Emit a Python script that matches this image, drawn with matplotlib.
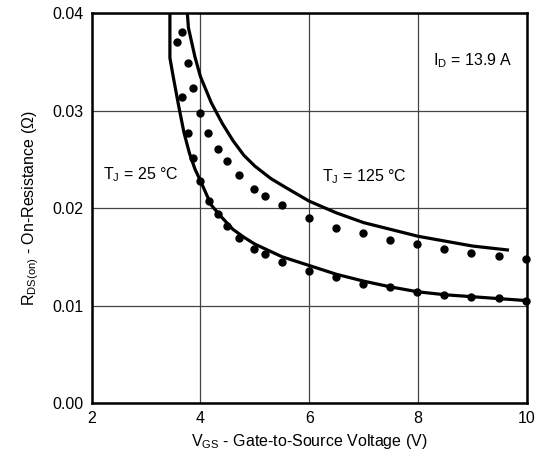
# On-resistance vs gate-to-source voltage, two junction temperatures

import matplotlib as mpl
mpl.use('Agg')
import matplotlib.pyplot as plt

plt.rcParams['font.family'] = ['Liberation Sans', 'DejaVu Sans']
plt.rcParams['mathtext.default'] = 'regular'

# measured points (dots)
vgs_hot = [3.67, 3.78, 3.87, 3.99, 4.14, 4.32, 4.48, 4.71, 4.98, 5.18, 5.49,
           6.0, 6.49, 6.99, 7.49, 7.98, 8.48, 8.98, 9.48, 9.98]
rds_hot = [0.0381, 0.0349, 0.0323, 0.0297, 0.0277, 0.0261, 0.0248, 0.0234, 0.0220,
           0.0212, 0.0203, 0.0190, 0.0180, 0.0174, 0.0167, 0.0163, 0.0158, 0.0154,
           0.0151, 0.0148]
vgs_cold = [3.57, 3.67, 3.78, 3.87, 3.99, 4.16, 4.32, 4.48, 4.71, 4.98, 5.18, 5.49,
            6.0, 6.49, 6.99, 7.49, 7.98, 8.48, 8.98, 9.48, 9.98]
rds_cold = [0.0370, 0.0314, 0.0277, 0.0251, 0.0228, 0.0207, 0.0194, 0.0182, 0.0169,
            0.0158, 0.0153, 0.0145, 0.0135, 0.0129, 0.0122, 0.0119, 0.0114, 0.0111,
            0.0109, 0.0108, 0.0105]

# solid curves
v_line25 = [3.44, 3.44, 3.5, 3.6, 3.7, 3.8, 3.9, 4.0, 4.2, 4.4, 4.6, 4.8, 5.0,
            5.5, 6.0, 6.5, 7.0, 7.5, 8.0, 8.5, 9.0, 9.5, 10.0]
r_line25 = [0.0400, 0.0354, 0.0335, 0.0305, 0.0277, 0.0256, 0.0240, 0.0228, 0.0203,
            0.0190, 0.0178, 0.0170, 0.0163, 0.0150, 0.0141, 0.0132, 0.0125, 0.0119,
            0.0114, 0.0111, 0.0109, 0.0107, 0.0105]
v_line125 = [3.76, 3.78, 3.9, 4.0, 4.2, 4.4, 4.6, 4.8, 5.0, 5.3, 5.6, 6.0, 6.5,
             7.0, 7.5, 8.0, 8.5, 9.0, 9.64]
r_line125 = [0.0400, 0.0385, 0.0355, 0.0335, 0.0308, 0.0287, 0.0269, 0.0254, 0.0243,
             0.0230, 0.0220, 0.0207, 0.0195, 0.0185, 0.0178, 0.0171, 0.0166, 0.0161,
             0.0157]

fs = 11.5

fig = plt.figure(figsize=(5.48, 4.66), dpi=100)
ax = fig.add_axes([0.167, 0.1352, 0.7947, 0.8368])

ax.plot(v_line25, r_line25, color='black', lw=2.3)
ax.plot(v_line125, r_line125, color='black', lw=2.3)
ax.plot(vgs_hot, rds_hot, 'o', color='black', ms=5, clip_on=False)
ax.plot(vgs_cold, rds_cold, 'o', color='black', ms=5, clip_on=False)

ax.set_xlim(2, 10)
ax.set_ylim(0, 0.04)
ax.set_xticks([2, 4, 6, 8, 10])
ax.set_yticks([0.0, 0.01, 0.02, 0.03, 0.04])
ax.set_yticklabels(['0.00', '0.01', '0.02', '0.03', '0.04'])
ax.grid(True, color='#444444', lw=0.9)
ax.set_axisbelow(True)
ax.tick_params(length=0, labelsize=fs, pad=6)
for s in ax.spines.values():
    s.set_linewidth(1.8)

ax.set_xlabel('V$_{GS}$ - Gate-to-Source Voltage (V)', fontsize=fs, labelpad=4)
ax.set_ylabel('R$_{DS(on)}$ - On-Resistance ($\\Omega$)', fontsize=fs, labelpad=8)

ax.text(8.28, 0.0346, 'I$_D$ = 13.9 A', fontsize=fs)
ax.text(2.21, 0.0229, 'T$_J$ = 25 °C', fontsize=fs)
ax.text(6.24, 0.0227, 'T$_J$ = 125 °C', fontsize=fs)

fig.savefig('out.png', dpi=100)
